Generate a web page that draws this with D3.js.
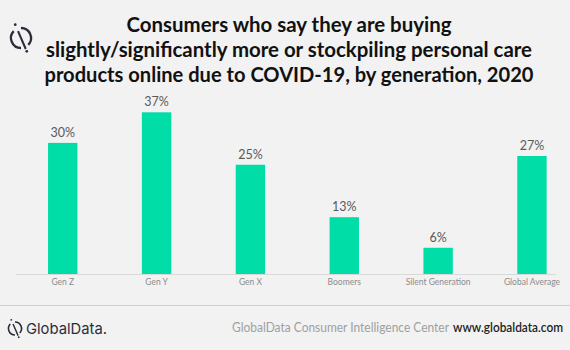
<!DOCTYPE html>
<html>
<head>
<meta charset="utf-8">
<script src="https://cdn.jsdelivr.net/npm/d3@7/dist/d3.min.js"></script>
<style>
html,body{margin:0;padding:0;background:#f2f2f2;}
svg{display:block;}
</style>
</head>
<body>
<svg id="chart" width="570" height="350"></svg>
<script>
const categories = ["Gen Z", "Gen Y", "Gen X", "Boomers", "Silent Generation", "Global Average"];
const values = [30, 37, 25, 13, 6, 27];
const valueLabels = ["30%", "37%", "25%", "13%", "6%", "27%"];
const titleLines = [
  "Consumers who say they are buying",
  "slightly/significantly more or stockpiling personal care",
  "products online due to COVID-19, by generation, 2020"
];

const svg = d3.select("#chart");
svg.append("rect").attr("width", 570).attr("height", 350).attr("fill", "#f2f2f2");

const font = "Lato, 'Open Sans', sans-serif";

// Title
const titleWidths = [325, 486, 489];
titleLines.forEach((t, i) => {
  svg.append("text")
    .attr("x", 289).attr("y", 32 + i * 25)
    .attr("text-anchor", "middle")
    .attr("font-family", font).attr("font-weight", 700)
    .attr("font-size", 20).attr("fill", "#111")
    .attr("textLength", titleWidths[i]).attr("lengthAdjust", "spacingAndGlyphs")
    .text(t);
});

// Logo icon: open circle crossed by a tilted slash with end dots
function drawIcon(g, cx, cy, r, sw) {
  const col = "#2d2d3a";
  const theta = -0.13 * Math.PI, gap = 0.13 * Math.PI;
  const arc = d3.arc().innerRadius(r - sw / 2).outerRadius(r + sw / 2);
  g.append("path").attr("transform", `translate(${cx},${cy})`)
    .attr("d", arc({startAngle: theta + gap, endAngle: theta + Math.PI - gap})).attr("fill", col);
  g.append("path").attr("transform", `translate(${cx},${cy})`)
    .attr("d", arc({startAngle: theta + Math.PI + gap, endAngle: theta + 2 * Math.PI - gap})).attr("fill", col);
  const dx = Math.sin(theta), dy = -Math.cos(theta);
  g.append("line")
    .attr("x1", cx + dx * r * 0.75).attr("y1", cy + dy * r * 0.75)
    .attr("x2", cx - dx * r * 1.2).attr("y2", cy - dy * r * 1.2)
    .attr("stroke", col).attr("stroke-width", sw * 0.9);
  g.append("circle").attr("cx", cx + dx * r * 1.45).attr("cy", cy + dy * r * 1.45).attr("r", sw * 0.6).attr("fill", col);
  g.append("circle").attr("cx", cx - dx * r * 1.45).attr("cy", cy - dy * r * 1.45).attr("r", sw * 0.6).attr("fill", col);
}
drawIcon(svg.append("g"), 21, 38, 10, 2.3);

// Scales
const x = d3.scaleBand().domain(categories).range([15.8, 578.9]).paddingInner(0.687).paddingOuter(0.3435);
const y = d3.scaleLinear().domain([0, 40]).range([274, 99.2]);

// Baseline
svg.append("line").attr("x1", 16).attr("x2", 556).attr("y1", 274.5).attr("y2", 274.5)
  .attr("stroke", "#d9d9d9").attr("stroke-width", 1);

// Bars
svg.selectAll("rect.bar").data(values).enter().append("rect")
  .attr("class", "bar")
  .attr("x", (d, i) => x(categories[i]))
  .attr("y", d => y(d))
  .attr("width", x.bandwidth())
  .attr("height", d => y(0) - y(d))
  .attr("fill", "#00dda6");

// Value labels
svg.selectAll("text.val").data(values).enter().append("text")
  .attr("class", "val")
  .attr("x", (d, i) => x(categories[i]) + x.bandwidth() / 2)
  .attr("y", d => y(d) - 6)
  .attr("text-anchor", "middle")
  .attr("font-family", font).attr("font-size", 12.5).attr("fill", "#595959")
  .text((d, i) => valueLabels[i]);

// Category axis labels
const axis = d3.axisBottom(x).tickSize(0).tickPadding(0);
const ag = svg.append("g").attr("transform", "translate(0,279)").call(axis);
ag.select(".domain").remove();
ag.selectAll("text")
  .attr("font-family", font).attr("font-size", 8.5).attr("fill", "#8c8c8c");

// Footer separator
svg.append("line").attr("x1", 0).attr("x2", 570).attr("y1", 305.5).attr("y2", 305.5)
  .attr("stroke", "#cfcfcf").attr("stroke-width", 1);

// Footer logo
drawIcon(svg.append("g"), 15, 328.5, 6.5, 1.6);
svg.append("text").attr("x", 26).attr("y", 334)
  .attr("font-family", "Inter, 'Noto Sans', sans-serif").attr("font-size", 15)
  .attr("fill", "#2d2d3a").attr("textLength", 81).attr("lengthAdjust", "spacingAndGlyphs")
  .text("GlobalData.");

// Footer source text
svg.append("text").attr("x", 232).attr("y", 332)
  .attr("font-family", font).attr("font-size", 12.5).attr("fill", "#a0a0a0")
  .attr("textLength", 217).attr("lengthAdjust", "spacingAndGlyphs")
  .text("GlobalData Consumer Intelligence Center");
svg.append("text").attr("x", 453).attr("y", 332)
  .attr("font-family", font).attr("font-size", 12.5).attr("font-weight", 600).attr("fill", "#222")
  .attr("textLength", 110).attr("lengthAdjust", "spacingAndGlyphs")
  .text("www.globaldata.com");
</script>
</body>
</html>
